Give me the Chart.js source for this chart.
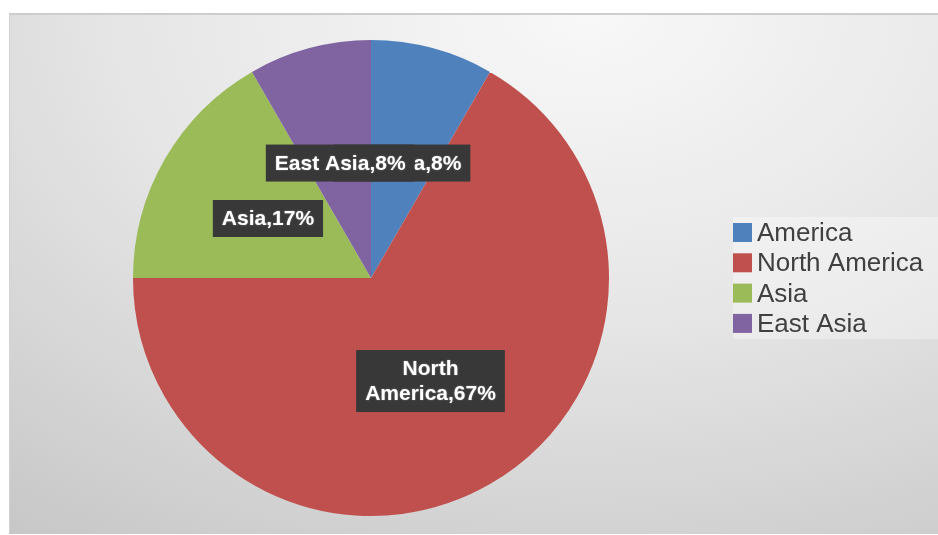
<!DOCTYPE html>
<html>
<head>
<meta charset="utf-8">
<script src="https://cdn.jsdelivr.net/npm/chart.js@4.4.1/dist/chart.umd.min.js"></script>
<style>
  html, body { margin: 0; padding: 0; background: #fff; }
  #wrap { position: relative; width: 938px; height: 535px; }
  #panel {
    position: absolute; left: 9px; top: 13px; width: 929px; height: 521px;
    box-sizing: border-box;
    border-top: 2px solid #cdcdcd; border-left: 1px solid #d2d2d2;
    background: radial-gradient(ellipse 110% 130% at 62% 0%, #f8f8f8 0%, #e6e6e6 45%, #c4c4c4 100%);
  }
  #legendBg {
    position: absolute; left: 733px; top: 217px; width: 205px; height: 122px;
    background: rgba(255,255,255,0.32);
  }
  canvas { position: absolute; left: 0; top: 0; }
</style>
</head>
<body>
<div id="wrap">
  <div id="panel"></div>
  <div id="legendBg"></div>
  <canvas id="c" width="938" height="535"></canvas>
</div>
<script>
const regions = ['America', 'North America', 'Asia', 'East Asia'];
const shares = [1, 8, 2, 1];
const sliceColors = ['#4f81bd', '#c0504d', '#9bbb59', '#8064a2'];

const total = shares.reduce((a, b) => a + b, 0);
const pct = v => Math.round(v / total * 100) + '%';

// data labels: dark boxes at the middle of each slice, drawn in data order
const sliceLabels = {
  id: 'sliceLabels',
  afterDatasetsDraw(chart) {
    const { ctx } = chart;
    const meta = chart.getDatasetMeta(0);
    ctx.save();
    ctx.font = 'bold 21px "Liberation Sans", Arial, sans-serif';
    ctx.textAlign = 'center';
    ctx.textBaseline = 'middle';
    meta.data.forEach((arc, i) => {
      const text = chart.data.labels[i] + ',' + pct(shares[i]);
      let lines = [text];
      if (ctx.measureText(text).width > 165) {
        const k = text.indexOf(' ');
        lines = [text.slice(0, k), text.slice(k + 1)];
      }
      const w = Math.max(...lines.map(l => ctx.measureText(l).width));
      const lh = 25;
      const boxW = w + 18, boxH = lines.length * lh + 12;
      const p = arc.tooltipPosition();
      ctx.fillStyle = '#383838';
      ctx.fillRect(p.x - boxW / 2, p.y - boxH / 2, boxW, boxH);
      ctx.fillStyle = '#ffffff';
      ctx.shadowColor = 'rgba(255,255,255,0.35)';
      ctx.shadowBlur = 2;
      lines.forEach((l, j) => {
        ctx.fillText(l, p.x, p.y - (lines.length - 1) * lh / 2 + j * lh + 1);
      });
      ctx.shadowBlur = 0;
    });
    ctx.restore();
  }
};

// legend on the right, square swatch + label
const sideLegend = {
  id: 'sideLegend',
  afterDraw(chart) {
    const { ctx } = chart;
    const colors = chart.data.datasets[0].backgroundColor;
    ctx.save();
    ctx.font = '26px "Liberation Sans", Arial, sans-serif';
    ctx.textBaseline = 'middle';
    chart.data.labels.forEach((lab, i) => {
      const y = 223 + i * 30.3;
      ctx.fillStyle = colors[i];
      ctx.fillRect(733, y, 19, 19);
      ctx.fillStyle = '#404040';
      ctx.fillText(lab, 757, y + 11);
    });
    ctx.restore();
  }
};

new Chart(document.getElementById('c'), {
  type: 'pie',
  data: {
    labels: regions,
    datasets: [{
      data: shares,
      backgroundColor: sliceColors,
      borderWidth: 0,
    }],
  },
  options: {
    responsive: false,
    animation: false,
    layout: { padding: { left: 133, right: 329, top: 40, bottom: 19 } },
    plugins: {
      legend: { display: false },
      tooltip: { enabled: false },
    },
  },
  plugins: [sliceLabels, sideLegend],
});
</script>
</body>
</html>
